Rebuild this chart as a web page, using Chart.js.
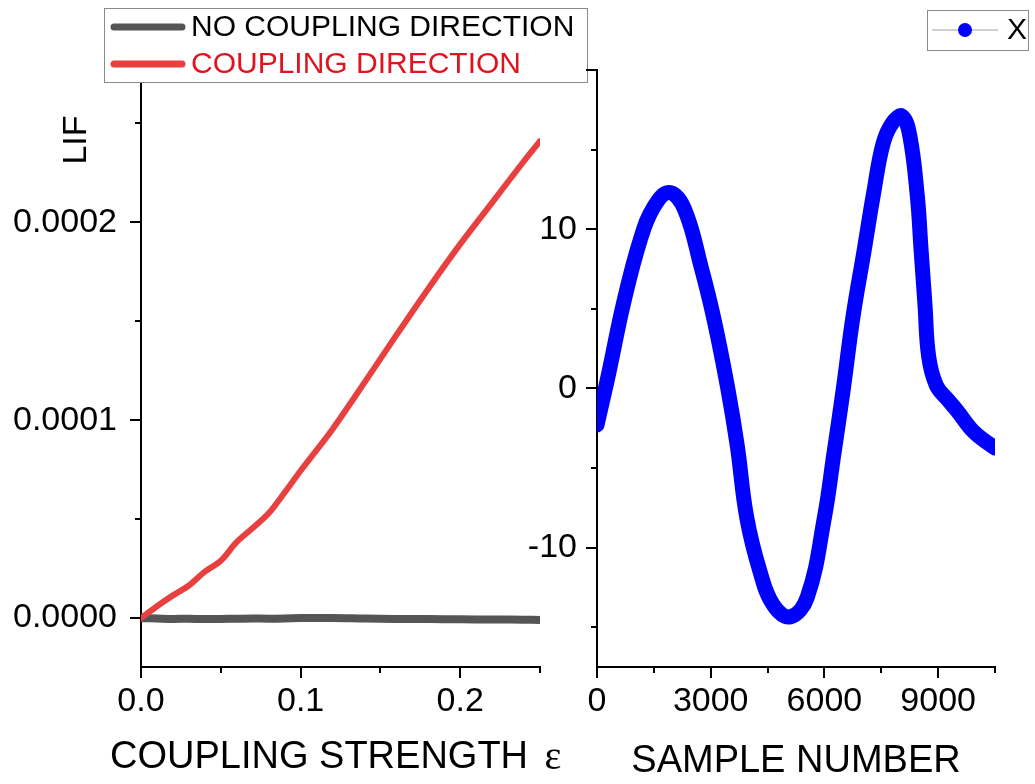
<!DOCTYPE html>
<html>
<head>
<meta charset="utf-8">
<script src="https://cdn.jsdelivr.net/npm/chart.js@4.4.1/dist/chart.umd.min.js"></script>
<style>
  html, body { margin: 0; padding: 0; background: #fff; }
  #wrap { position: relative; width: 1035px; height: 784px; }
  #wrap canvas { position: absolute; left: 0; top: 0; }
</style>
</head>
<body>
<div id="wrap">
  <canvas id="lifChart" width="1035" height="784"></canvas>
  <canvas id="xChart" width="1035" height="784"></canvas>
</div>
<script>
// ---- data ----
const couplingStrength = [0, 0.01, 0.02, 0.03, 0.04, 0.05, 0.06, 0.07, 0.08, 0.09, 0.10,
                          0.12, 0.14, 0.16, 0.18, 0.20, 0.22, 0.24, 0.25];
const lifCoupling   = [0, 6.0e-6, 1.15e-5, 1.65e-5, 2.35e-5, 2.9e-5, 3.85e-5, 4.55e-5, 5.3e-5, 6.35e-5, 7.45e-5,
                       9.55e-5, 1.19e-4, 1.43e-4, 1.665e-4, 1.89e-4, 2.10e-4, 2.31e-4, 2.41e-4];
const lifNoCoupling = [0, -2e-7, -4e-7, -3e-7, -5e-7, -4e-7, -3e-7, -2e-7, -3e-7, -2e-7, 0,
                       1e-7, -2e-7, -4e-7, -5e-7, -6e-7, -7e-7, -8e-7, -9e-7];

const sampleNumber = [0, 300, 700, 1150, 1500, 1900, 2300, 2750, 3100, 3450, 3700, 3950,
                      4300, 4650, 5100, 5550, 6000, 6250, 6500, 6750, 7050, 7300, 7550,
                      7800, 8050, 8250, 8450, 8550, 8650, 8750, 8950, 9250, 9500, 9950, 10500];
const xSignal = [-2.3, 0.85, 5.35, 9.4, 11.4, 12.3, 11.3, 7.6, 4.2, 0, -3.6, -8.1,
                 -11.5, -13.6, -14.35, -13.1, -8.1, -4.1, 0, 4.45, 8.7, 12.3, 15.4,
                 16.7, 17.1, 15.9, 12.1, 8.7, 5.35, 2.0, 0.2, -0.7, -1.4, -2.75, -3.75];

// ticks
const strengthTicks = [0, 0.05, 0.1, 0.15, 0.2, 0.25];
const strengthMajor = [0, 0.1, 0.2];
const lifTicks = [0, 0.00005, 0.0001, 0.00015, 0.0002, 0.00025];
const lifMajor = [0, 0.0001, 0.0002];
const sampleTicks = [0, 1500, 3000, 4500, 6000, 7500, 9000, 10500];
const sampleMajor = [0, 3000, 6000, 9000];
const xTicks = [-15, -10, -5, 0, 5, 10, 15, 20];
const xMajor = [-10, 0, 10];      // labelled
const xMajorMarks = [-10, 0, 10, 20];

const FONT = "'Liberation Sans', Arial, sans-serif";
const isIn = (list, v) => list.some(m => Math.abs(m - v) < 1e-12);

// draws major/minor tick marks through the scales
const tickMarks = {
  id: 'tickMarks',
  afterDraw(chart, args, opts) {
    const ctx = chart.ctx;
    const xs = chart.scales.x, ys = chart.scales.y;
    ctx.save();
    ctx.strokeStyle = '#000';
    ctx.lineWidth = 2;
    opts.xValues.forEach(v => {
      const px = Math.round(xs.getPixelForValue(v));
      const len = isIn(opts.xMajor, v) ? 11 : 6;
      ctx.beginPath(); ctx.moveTo(px, xs.top); ctx.lineTo(px, xs.top + len); ctx.stroke();
    });
    opts.yValues.forEach(v => {
      const py = Math.round(ys.getPixelForValue(v));
      const len = isIn(opts.yMajor, v) ? 11 : 6;
      ctx.beginPath(); ctx.moveTo(ys.right, py); ctx.lineTo(ys.right - len, py); ctx.stroke();
    });
    ctx.restore();
  }
};

// legend boxes, the LIF label and the epsilon title
const boxLegend = {
  id: 'boxLegend',
  afterDraw(chart, args, opts) {
    const ctx = chart.ctx;
    ctx.save();
    const b = opts.box;
    ctx.fillStyle = '#fff';
    ctx.fillRect(b.x, b.y, b.w, b.h);
    ctx.strokeStyle = '#8a8a8a';
    ctx.lineWidth = 1;
    ctx.strokeRect(b.x + 0.5, b.y + 0.5, b.w, b.h);
    ctx.font = opts.fontSize + 'px ' + FONT;
    ctx.textBaseline = 'middle';
    opts.items.forEach(it => {
      const ds = chart.data.datasets[it.dataset];
      if (it.marker) {
        ctx.strokeStyle = '#a0a0a0';
        ctx.lineWidth = 1;
        ctx.beginPath(); ctx.moveTo(it.x0, it.y); ctx.lineTo(it.x1, it.y); ctx.stroke();
        ctx.fillStyle = ds.borderColor;
        ctx.beginPath(); ctx.arc((it.x0 + it.x1) / 2, it.y, 7, 0, Math.PI * 2); ctx.fill();
      } else {
        ctx.strokeStyle = ds.borderColor;
        ctx.lineWidth = 7;
        ctx.lineCap = 'round';
        ctx.beginPath(); ctx.moveTo(it.x0, it.y); ctx.lineTo(it.x1, it.y); ctx.stroke();
      }
      ctx.fillStyle = it.textColor;
      ctx.fillText(ds.label, it.tx, it.y + 1);
    });
    if (opts.xTitle) {
      const t = opts.xTitle;
      ctx.fillStyle = '#000';
      ctx.textAlign = 'left';
      ctx.font = t.size + 'px ' + FONT;
      ctx.fillText(t.text, t.x, t.y);
      const w = ctx.measureText(t.text + ' ').width;
      ctx.font = (t.size + 2) + "px 'Liberation Serif', 'DejaVu Serif', serif";
      ctx.fillText(t.symbol, t.x + w + 6, t.y);
    }
    if (opts.yTitle) {
      const t = opts.yTitle;
      ctx.translate(t.x, t.y);
      ctx.rotate(-Math.PI / 2);
      ctx.textAlign = 'center';
      ctx.fillStyle = '#000';
      ctx.font = t.size + 'px ' + FONT;
      ctx.fillText(t.text, 0, 0);
    }
    ctx.restore();
  }
};

const axisBase = (extra) => Object.assign({
  type: 'linear',
  grid: { display: false },
  border: { display: true, color: '#000', width: 2 }
}, extra);

new Chart(document.getElementById('lifChart'), {
  type: 'line',
  data: {
    datasets: [
      {
        label: 'COUPLING DIRECTION',
        data: couplingStrength.map((x, i) => ({ x, y: lifCoupling[i] })),
        borderColor: '#e8403f',
        borderWidth: 6,
        pointRadius: 0,
        tension: 0.3,
        borderCapStyle: 'round'
      },
      {
        label: 'NO COUPLING DIRECTION',
        data: couplingStrength.map((x, i) => ({ x, y: lifNoCoupling[i] })),
        borderColor: '#555555',
        borderWidth: 8,
        pointRadius: 0,
        tension: 0.3,
        borderCapStyle: 'round'
      }
    ]
  },
  options: {
    responsive: false,
    animation: false,
    events: [],
    layout: { padding: { left: 0, top: 70, right: 495, bottom: 0 } },
    plugins: {
      legend: { display: false },
      tooltip: { enabled: false },
      tickMarks: { xValues: strengthTicks, xMajor: strengthMajor, yValues: lifTicks, yMajor: lifMajor },
      boxLegend: {
        box: { x: 104, y: 8, w: 483, h: 74 },
        fontSize: 30,
        items: [
          { dataset: 1, x0: 114, x1: 182, y: 27, tx: 191, textColor: '#000' },
          { dataset: 0, x0: 114, x1: 182, y: 64, tx: 191, textColor: '#e0141e' }
        ],
        xTitle: { text: 'COUPLING STRENGTH', symbol: 'ε', x: 110, y: 758, size: 38 },
        yTitle: { text: 'LIF', x: 77, y: 140, size: 34 }
      }
    },
    scales: {
      x: axisBase({
        min: 0, max: 0.25,
        afterBuildTicks: s => { s.ticks = strengthTicks.map(v => ({ value: v })); },
        afterFit: s => { s.height = 117; },
        ticks: {
          padding: 6, color: '#000', maxRotation: 0, autoSkip: false,
          font: { family: FONT, size: 34 },
          callback: v => isIn(strengthMajor, v) ? v.toFixed(1) : ''
        }
      }),
      y: axisBase({
        min: -0.0000247, max: 0.000277,
        afterBuildTicks: s => { s.ticks = lifTicks.map(v => ({ value: v })); },
        afterFit: s => { s.width = 141; },
        ticks: {
          padding: 16, color: '#000', autoSkip: false,
          font: { family: FONT, size: 34 },
          callback: v => isIn(lifMajor, v) ? v.toFixed(4) : ''
        }
      })
    }
  },
  plugins: [tickMarks, boxLegend]
});

new Chart(document.getElementById('xChart'), {
  type: 'line',
  data: {
    datasets: [{
      label: 'X',
      data: sampleNumber.map((x, i) => ({ x, y: xSignal[i] })),
      borderColor: '#0000ff',
      borderWidth: 15,
      pointRadius: 0,
      tension: 0.4,
      borderCapStyle: 'round',
      borderJoinStyle: 'round',
      clip: 0
    }]
  },
  options: {
    responsive: false,
    animation: false,
    events: [],
    layout: { padding: { left: 517, top: 70, right: 40, bottom: 0 } },
    plugins: {
      legend: { display: false },
      tooltip: { enabled: false },
      tickMarks: { xValues: sampleTicks, xMajor: sampleMajor, yValues: xTicks, yMajor: xMajorMarks },
      boxLegend: {
        box: { x: 927, y: 10, w: 101, h: 40 },
        fontSize: 30,
        items: [{ dataset: 0, marker: true, x0: 932, x1: 998, y: 30, tx: 1007, textColor: '#000' }]
      }
    },
    scales: {
      x: axisBase({
        min: 0, max: 10500,
        afterBuildTicks: s => { s.ticks = sampleTicks.map(v => ({ value: v })); },
        afterFit: s => { s.height = 117; },
        ticks: {
          padding: 6, color: '#000', maxRotation: 0, autoSkip: false,
          font: { family: FONT, size: 34 },
          callback: v => isIn(sampleMajor, v) ? String(v) : ''
        },
        title: {
          display: true, text: 'SAMPLE NUMBER', color: '#000',
          font: { family: FONT, size: 38 }, padding: { top: 0, bottom: 0 }
        }
      }),
      y: axisBase({
        min: -17.5, max: 20,
        afterBuildTicks: s => { s.ticks = xTicks.map(v => ({ value: v })); },
        afterFit: s => { s.width = 80; },
        ticks: {
          padding: 12, color: '#000', autoSkip: false,
          font: { family: FONT, size: 34 },
          callback: v => isIn(xMajor, v) ? String(v) : ''
        }
      })
    }
  },
  plugins: [tickMarks, boxLegend]
});
</script>
</body>
</html>
